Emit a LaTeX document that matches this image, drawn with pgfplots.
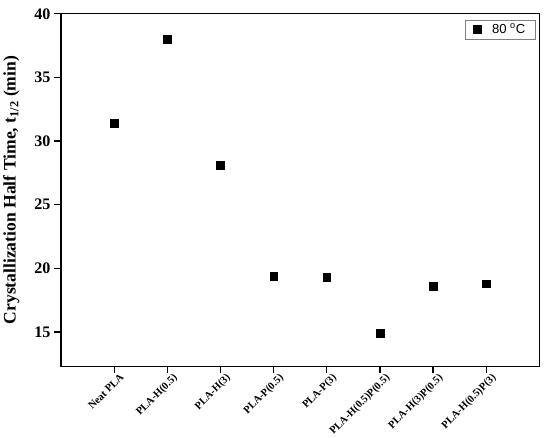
\documentclass[border={0pt 0pt 10pt 5pt}]{standalone}
\usepackage{pgfplots}
\pgfplotsset{compat=1.18}
\usepackage{fontspec}
\setmainfont{Liberation Serif}
\newfontfamily\legfont{Liberation Sans}

\begin{document}
\begin{tikzpicture}
\begin{axis}[
  scale only axis,
  width=476pt, height=351pt,
  xmin=-1, xmax=8,
  ymin=12.3, ymax=40,
  xtick={0,1,2,3,4,5,6,7},
  xticklabels={Neat PLA,PLA-H(0.5),PLA-H(3),PLA-P(0.5),PLA-P(3),PLA-H(0.5)P(0.5),PLA-H(3)P(0.5),PLA-H(0.5)P(3)},
  x tick label style={rotate=45, anchor=north east, font=\fontsize{10.5}{12}\selectfont\bfseries, inner sep=1pt, yshift=-7pt},
  ytick={15,20,25,30,35,40},
  yticklabels={15,20,25,30,35,40},
  y tick label style={font=\fontsize{16}{18}\selectfont\bfseries, xshift=-7pt},
  tick align=inside,
  xtick pos=left, ytick pos=left,
  major tick length=0pt,
  axis line style={line width=1.3pt},
  after end axis/.code={
    \foreach \x in {0,1,2,3,4,5,6,7}
      \draw[draw=black, line width=1.3pt] (axis cs:\x,12.3) -- ++(0pt,-7pt);
    \foreach \y in {15,20,25,30,35,40}
      \draw[draw=black, line width=1.3pt] (axis cs:-1,\y) -- ++(-7pt,0pt);
  },
  ylabel={Crystallization Half Time, t\textsubscript{1/2} (min)},
  ylabel style={font=\fontsize{17.5}{19}\selectfont\bfseries, yshift=8pt},
  legend style={at={(0.992,0.983)}, anchor=north east, draw=gray, line width=0.5pt,
    font=\legfont\fontsize{13}{15}\selectfont, inner xsep=8pt, inner ysep=2pt},
  legend cell align=left,
]
\addplot[only marks, mark=square*, mark size=3.8pt, black] coordinates {
  (0,31.4) (1,38.0) (2,28.1) (3,19.4) (4,19.3) (5,14.9) (6,18.6) (7,18.8)
};
\addlegendentry{\hspace{9pt}80 \textsuperscript{o}C}
\end{axis}
\end{tikzpicture}
\end{document}
